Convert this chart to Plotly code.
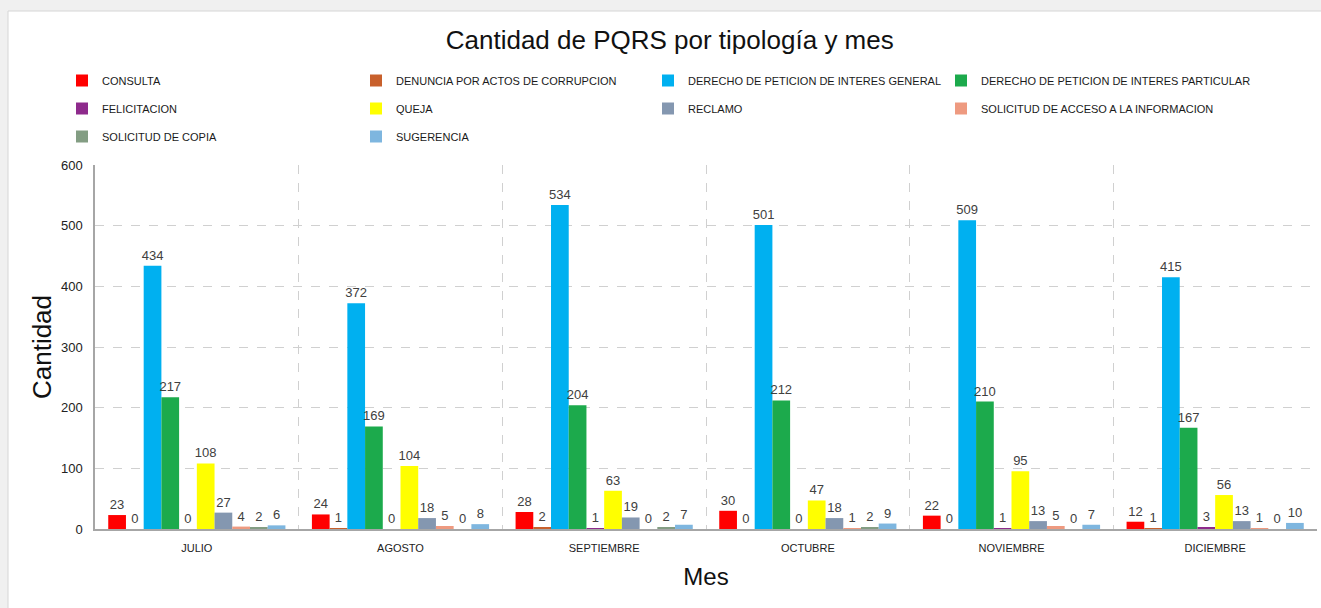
import plotly.graph_objects as go

months = ["JULIO", "AGOSTO", "SEPTIEMBRE", "OCTUBRE", "NOVIEMBRE", "DICIEMBRE"]

consulta = [23, 24, 28, 30, 22, 12]
denuncia = [0, 1, 2, 0, 0, 1]
dp_general = [434, 372, 534, 501, 509, 415]
dp_particular = [217, 169, 204, 212, 210, 167]
felicitacion = [0, 0, 1, 0, 1, 3]
queja = [108, 104, 63, 47, 95, 56]
reclamo = [27, 18, 19, 18, 13, 13]
sol_acceso = [4, 5, 0, 1, 5, 1]
sol_copia = [2, 0, 2, 2, 0, 0]
sugerencia = [6, 8, 7, 9, 7, 10]

series = [
    ("CONSULTA", consulta, "#FF0000", "legend"),
    ("DENUNCIA POR ACTOS DE CORRUPCION", denuncia, "#C8602C", "legend2"),
    ("DERECHO DE PETICION DE INTERES GENERAL", dp_general, "#00B0F0", "legend3"),
    ("DERECHO DE PETICION DE INTERES PARTICULAR", dp_particular, "#1CAA4C", "legend4"),
    ("FELICITACION", felicitacion, "#8E2A8C", "legend"),
    ("QUEJA", queja, "#FFFF00", "legend2"),
    ("RECLAMO", reclamo, "#8497B0", "legend3"),
    ("SOLICITUD DE ACCESO A LA INFORMACION", sol_acceso, "#EE9A80", "legend4"),
    ("SOLICITUD DE COPIA", sol_copia, "#839D83", "legend"),
    ("SUGERENCIA", sugerencia, "#7EB6DF", "legend2"),
]

fig = go.Figure()
for i, (name, vals, color, leg) in enumerate(series):
    fig.add_trace(go.Bar(
        x=months, y=vals, name=name,
        marker=dict(color=color, line=dict(width=0)),
        text=vals, textposition="outside", cliponaxis=False,
        constraintext="none",
        textfont=dict(family="Liberation Sans", size=13, color="#404040"),
        legend=leg, legendgroup=name,
    ))

def px_to_x(px):
    return (px - 95) / 1222.0

def px_to_y(py):
    return (529 - py) / 364.0

legend_common = dict(
    orientation="v", xanchor="left", yanchor="top", y=px_to_y(66),
    font=dict(family="Liberation Sans", size=11, color="#1A1A1A"),
    bgcolor="rgba(0,0,0,0)", tracegroupgap=9, itemclick=False,
)

fig.update_layout(
    width=1321, height=608,
    paper_bgcolor="#F0F0F0",
    plot_bgcolor="white",
    margin=dict(l=95, r=4, t=165, b=79),
    barmode="group", bargap=0.13, bargroupgap=0,
    title=dict(text="Cantidad de PQRS por tipología y mes", x=0.507, xanchor="center",
               y=1 - 40 / 608, yanchor="middle",
               font=dict(family="Liberation Sans", size=26, color="#111111")),
    legend=dict(x=px_to_x(62), **legend_common),
    legend2=dict(x=px_to_x(356), **legend_common),
    legend3=dict(x=px_to_x(648), **legend_common),
    legend4=dict(x=px_to_x(941), **legend_common),
    showlegend=True,
    shapes=[dict(type="rect", xref="paper", yref="paper", layer="below",
                 x0=px_to_x(8), x1=px_to_x(1330), y0=px_to_y(620), y1=px_to_y(11),
                 fillcolor="white", line=dict(color="#D6D6D6", width=1))],
)

fig.update_xaxes(
    type="category", tickson="boundaries", showgrid=True, griddash="dash",
    gridcolor="#D0D0D0", gridwidth=1, ticks="", showline=True, linecolor="#A6A6A6",
    linewidth=1.5, ticklabelstandoff=8,
    tickfont=dict(family="Liberation Sans", size=11, color="#222222"),
    title=dict(text="Mes", standoff=15, font=dict(family="Liberation Sans", size=24, color="#111111")),
)
fig.update_yaxes(
    range=[0, 600], dtick=100, showgrid=True, griddash="dash", gridcolor="#D0D0D0",
    gridwidth=1, showline=True, linecolor="#A6A6A6", linewidth=1.5, ticks="",
    zeroline=False, ticklabelstandoff=8,
    tickfont=dict(family="Liberation Sans", size=13, color="#222222"),
    title=dict(text="Cantidad", standoff=2, font=dict(family="Liberation Sans", size=26, color="#111111")),
)

fig.write_html("out.html", config={"displayModeBar": False},
               post_script="document.body.style.margin='0';document.body.style.background='#F0F0F0';")
